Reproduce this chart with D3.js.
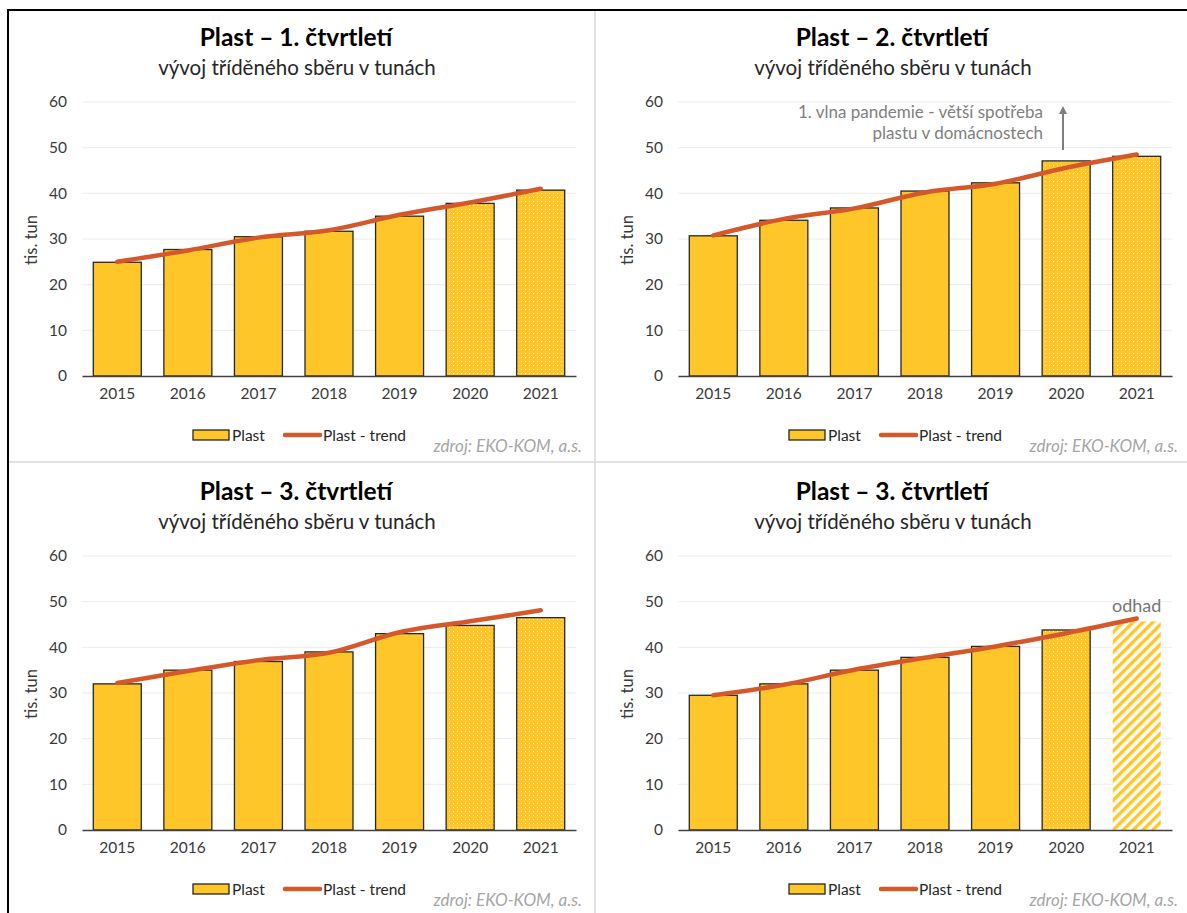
<!DOCTYPE html>
<html><head><meta charset="utf-8">
<script src="https://cdn.jsdelivr.net/npm/d3@7"></script>
<style>
html,body{margin:0;padding:0;background:#fff;}
svg{display:block;font-family:Lato,"Noto Sans",sans-serif;}
</style></head>
<body>
<svg id="c" width="1187" height="913"></svg>
<script>
const years = ["2015","2016","2017","2018","2019","2020","2021"];
const yTicks = [0,10,20,30,40,50,60];
const titles = ["Plast – 1. čtvrtletí","Plast – 2. čtvrtletí","Plast – 3. čtvrtletí","Plast – 3. čtvrtletí"];
const subtitle = "vývoj tříděného sběru v tunách";
const yAxisLabel = "tis. tun";
const legendBar = "Plast";
const legendLine = "Plast - trend";
const sourceText = "zdroj: EKO-KOM, a.s.";
const q1Values = [24.9, 27.7, 30.5, 31.7, 35.0, 37.8, 40.7];
const q1Trend  = [25.0, 27.5, 30.3, 31.9, 35.3, 38.0, 41.0];
const q2Values = [30.7, 34.1, 36.8, 40.5, 42.3, 47.1, 48.1];
const q2Trend  = [30.8, 34.4, 36.7, 40.2, 42.1, 45.6, 48.5];
const q3Values = [32.0, 35.0, 36.9, 39.0, 43.0, 44.8, 46.5];
const q3Trend  = [32.2, 34.8, 37.2, 38.8, 43.3, 45.7, 48.1];
const q3bValues = [29.5, 32.0, 35.0, 37.8, 40.2, 43.8, 45.7];
const q3bTrend  = [29.5, 31.8, 35.1, 37.7, 40.2, 43.1, 46.3];
const covidNote = ["1. vlna pandemie - větší spotřeba","plastu v domácnostech"];
const estimateNote = "odhad";

const panels = [
  {title: titles[0], values: q1Values, trend: q1Trend, ox: 0, oy: 0},
  {title: titles[1], values: q2Values, trend: q2Trend, ox: 596, oy: 0, note: covidNote},
  {title: titles[2], values: q3Values, trend: q3Trend, ox: 0, oy: 454},
  {title: titles[3], values: q3bValues, trend: q3bTrend, ox: 596, oy: 454, estimate: true}
];

const BAR = "#ffc629", TREND = "#d5582a", TXT = "#3a3a3a";
const svg = d3.select("#c");
const defs = svg.append("defs");
const dots = defs.append("pattern").attr("id","dots").attr("patternUnits","userSpaceOnUse")
  .attr("width",4).attr("height",4);
dots.append("rect").attr("width",4).attr("height",4).attr("fill",BAR);
dots.append("rect").attr("x",1).attr("y",1).attr("width",1).attr("height",1).attr("fill","#fff").attr("opacity",0.75);
const hatch = defs.append("pattern").attr("id","hatch").attr("patternUnits","userSpaceOnUse")
  .attr("width",7).attr("height",7).attr("patternTransform","rotate(45)");
hatch.append("rect").attr("width",7).attr("height",7).attr("fill","#fff");
hatch.append("rect").attr("width",3.4).attr("height",7).attr("fill",BAR);
defs.append("marker").attr("id","arr").attr("viewBox","0 0 10 10").attr("refX",5).attr("refY",5)
  .attr("markerWidth",4).attr("markerHeight",4).attr("orient","auto-start-reverse")
  .append("path").attr("d","M0,0L10,5L0,10z").attr("fill","#7f7f7f");

// frame lines
svg.append("line").attr("x1",595).attr("x2",595).attr("y1",11).attr("y2",913).attr("stroke","#d9d9d9").attr("stroke-width",1.5);
svg.append("line").attr("x1",8).attr("x2",1187).attr("y1",462).attr("y2",462).attr("stroke","#d9d9d9").attr("stroke-width",1.5);
svg.append("line").attr("x1",8).attr("x2",8).attr("y1",9).attr("y2",913).attr("stroke","#000").attr("stroke-width",2);
svg.append("line").attr("x1",7).attr("x2",1187).attr("y1",10).attr("y2",10).attr("stroke","#000").attr("stroke-width",2);

const x = d3.scaleBand().domain(years).range([82,576]).paddingInner(0.32).paddingOuter(0.16);
const y = d3.scaleLinear().domain([0,60]).range([376,102]);

panels.forEach(p => {
  const g = svg.append("g").attr("transform",`translate(${p.ox},${p.oy})`);
  g.append("text").attr("x",296).attr("y",46).attr("text-anchor","middle")
    .attr("font-weight","bold").attr("font-size",24.5).attr("fill","#000").text(p.title);
  g.append("text").attr("x",297).attr("y",75).attr("text-anchor","middle")
    .attr("font-size",20.5).attr("fill","#262626").text(subtitle);

  // grid
  g.append("g").selectAll("line").data(yTicks.filter(d=>d>0)).join("line")
    .attr("x1",82).attr("x2",576).attr("y1",d=>y(d)).attr("y2",d=>y(d))
    .attr("stroke","#ececec").attr("stroke-width",1);
  const ya = g.append("g").attr("transform","translate(82,0)")
    .call(d3.axisLeft(y).tickValues(yTicks).tickSize(0).tickPadding(15));
  ya.select(".domain").remove();
  ya.selectAll("text").attr("font-size",15.5).attr("fill",TXT).attr("font-family","Lato");
  g.append("text").attr("transform","translate(37,240) rotate(-90)").attr("text-anchor","middle")
    .attr("font-size",16.5).attr("fill",TXT).text(yAxisLabel);

  // bars
  g.append("g").selectAll("rect").data(p.values).join("rect")
    .attr("x",(d,i)=>x(years[i])).attr("width",x.bandwidth())
    .attr("y",d=>y(d)).attr("height",d=>y(0)-y(d))
    .attr("fill",(d,i)=> (p.estimate && i===6) ? "url(#hatch)" : (i>=5 ? "url(#dots)" : BAR))
    .attr("stroke",(d,i)=> (p.estimate && i===6) ? "none" : "#262626")
    .attr("stroke-width",1.3);

  const xa = g.append("g").attr("transform","translate(0,376)")
    .call(d3.axisBottom(x).tickSize(0).tickPadding(12));
  xa.select(".domain").attr("stroke","#404040").attr("stroke-width",1.3);
  xa.selectAll("text").attr("font-size",15.5).attr("fill",TXT).attr("font-family","Lato");

  // trend
  const line = d3.line().x((d,i)=>x(years[i])+x.bandwidth()/2).y(d=>y(d)).curve(d3.curveMonotoneX);
  g.append("path").datum(p.trend).attr("d",line).attr("fill","none")
    .attr("stroke",TREND).attr("stroke-width",4.5).attr("stroke-linecap","round");

  if (p.note) {
    g.append("text").attr("x",447).attr("y",118).attr("text-anchor","end").attr("font-size",17)
      .attr("fill","#7f7f7f").text(p.note[0]);
    g.append("text").attr("x",447).attr("y",139).attr("text-anchor","end").attr("font-size",17)
      .attr("fill","#7f7f7f").text(p.note[1]);
    g.append("line").attr("x1",467).attr("x2",467).attr("y1",150).attr("y2",110)
      .attr("stroke","#7f7f7f").attr("stroke-width",2).attr("marker-end","url(#arr)");
  }
  if (p.estimate) {
    g.append("text").attr("x",x(years[6])+x.bandwidth()/2).attr("y",158).attr("text-anchor","middle")
      .attr("font-size",18).attr("fill","#767676").text(estimateNote);
  }

  // legend
  g.append("rect").attr("x",193).attr("y",430).attr("width",36).attr("height",10)
    .attr("fill",BAR).attr("stroke","#262626").attr("stroke-width",1.3);
  g.append("text").attr("x",232).attr("y",441).attr("font-size",15.5).attr("fill","#262626").text(legendBar);
  g.append("line").attr("x1",285).attr("x2",320).attr("y1",435).attr("y2",435)
    .attr("stroke",TREND).attr("stroke-width",4.5).attr("stroke-linecap","round");
  g.append("text").attr("x",323).attr("y",441).attr("font-size",15.5).attr("fill","#262626").text(legendLine);
  g.append("text").attr("x",582).attr("y",452).attr("text-anchor","end").attr("font-size",17)
    .attr("font-style","italic").attr("fill","#a6a6a6").text(sourceText);
});
</script>
</body></html>
